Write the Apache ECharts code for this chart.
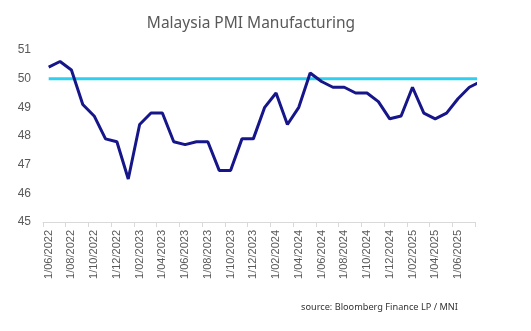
<!DOCTYPE html>
<html>
<head>
<meta charset="utf-8">
<script src="https://cdn.jsdelivr.net/npm/echarts@6/dist/echarts.min.js"></script>
<style>html,body{margin:0;padding:0;background:#fff}#c{width:531px;height:331px}</style>
</head>
<body>
<div id="c"></div>
<script>
// Months (first of month), Jun 2022 .. Aug 2025
const months = [
  '1/06/2022','1/07/2022','1/08/2022','1/09/2022','1/10/2022','1/11/2022','1/12/2022',
  '1/01/2023','1/02/2023','1/03/2023','1/04/2023','1/05/2023','1/06/2023','1/07/2023','1/08/2023','1/09/2023','1/10/2023','1/11/2023','1/12/2023',
  '1/01/2024','1/02/2024','1/03/2024','1/04/2024','1/05/2024','1/06/2024','1/07/2024','1/08/2024','1/09/2024','1/10/2024','1/11/2024','1/12/2024',
  '1/01/2025','1/02/2025','1/03/2025','1/04/2025','1/05/2025','1/06/2025','1/07/2025','1/08/2025'
];
const pmi = [
  50.4, 50.6, 50.3, 49.1, 48.7, 47.9, 47.8,
  46.5, 48.4, 48.8, 48.8, 47.8, 47.7, 47.8, 47.8, 46.8, 46.8, 47.9, 47.9,
  49.0, 49.5, 48.4, 49.0, 50.2, 49.9, 49.7, 49.7, 49.5, 49.5, 49.2, 48.6,
  48.7, 49.7, 48.8, 48.6, 48.8, 49.3, 49.7, 49.9
];
const threshold = 50;
const lastVisibleMonth = '1/07/2025';
const yTicks = { min: 45, max: 51, step: 1 };

const chart = echarts.init(document.getElementById('c'), null, { renderer: 'canvas' });
const lastIdx = months.indexOf(lastVisibleMonth);

chart.setOption({
  animation: false,
  backgroundColor: '#ffffff',
  textStyle: { fontFamily: 'Liberation Sans' },
  graphic: [
    { type: 'text', x: 251, y: 16, style: { text: 'Malaysia PMI Manufacturing', fontFamily: 'Noto Sans', fontSize: 15.5, fill: '#595959', textAlign: 'center' } },
    { type: 'text', x: 301, y: 303, style: { text: 'source: Bloomberg Finance LP / MNI', fontFamily: 'Noto Sans', fontSize: 9.2, fill: '#333333' } }
  ],
  grid: { left: 43, right: 56, top: 50, bottom: 109, containLabel: false },
  xAxis: {
    type: 'category',
    data: months,
    boundaryGap: true,
    max: lastIdx,
    axisLine: { lineStyle: { color: '#d9d9d9', width: 1 } },
    axisTick: { show: true, interval: 1, length: 5, lineStyle: { color: '#d9d9d9' } },
    axisLabel: { interval: 1, rotate: 90, fontSize: 11, color: '#595959', margin: 8, fontFamily: 'Liberation Sans' },
    splitLine: { show: false }
  },
  yAxis: {
    type: 'value',
    min: yTicks.min, max: yTicks.max, interval: yTicks.step,
    axisLine: { show: false }, axisTick: { show: false },
    splitLine: { show: false },
    axisLabel: { fontSize: 12, color: '#595959', margin: 12, fontFamily: 'Liberation Sans' }
  },
  series: [
    { type: 'line', data: months.map(() => threshold), symbol: 'none', clip: true,
      lineStyle: { color: '#2fd0ef', width: 3 }, z: 2 },
    { type: 'line', data: pmi, symbol: 'none', clip: true,
      lineStyle: { color: '#16168a', width: 3 }, z: 3 }
  ]
});
</script>
</body>
</html>
